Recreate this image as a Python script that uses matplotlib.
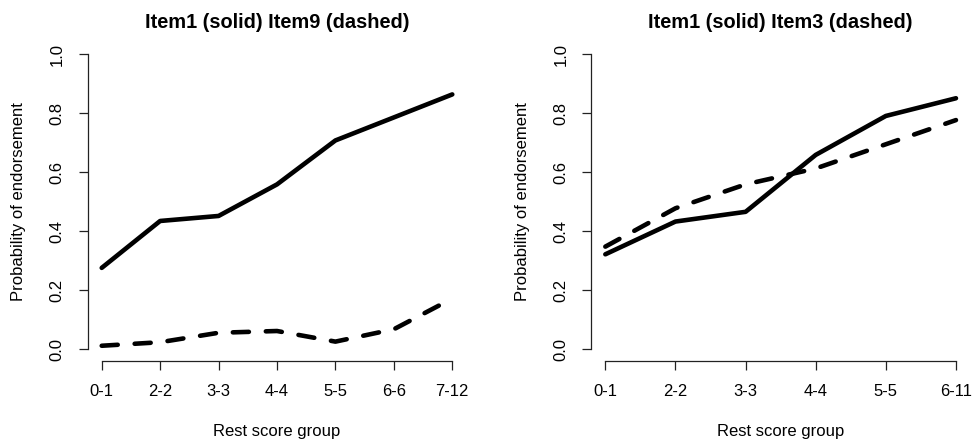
import matplotlib
matplotlib.use("Agg")
import matplotlib.pyplot as plt

plt.rcParams['font.family'] = ['Liberation Sans', 'DejaVu Sans']

left_groups = ["0-1", "2-2", "3-3", "4-4", "5-5", "6-6", "7-12"]
left_item1 = [0.275, 0.434, 0.451, 0.558, 0.707, 0.785, 0.863]
left_item9 = [0.011, 0.023, 0.055, 0.061, 0.025, 0.067, 0.171]

right_groups = ["0-1", "2-2", "3-3", "4-4", "5-5", "6-11"]
right_item1 = [0.321, 0.432, 0.465, 0.658, 0.790, 0.850]
right_item3 = [0.347, 0.477, 0.558, 0.612, 0.694, 0.776]

titles = ["Item1 (solid) Item9 (dashed)", "Item1 (solid) Item3 (dashed)"]
yticks = [0.0, 0.2, 0.4, 0.6, 0.8, 1.0]

W, H = 973, 440
fig = plt.figure(figsize=(W / 100, H / 100), dpi=100)

def add_panel(left_px, right_px, groups, solid, dashed, title):
    top_px, bot_px = 42.2, 360.8
    ax = fig.add_axes([left_px / W, 1 - bot_px / H, (right_px - left_px) / W, (bot_px - top_px) / H])
    x = list(range(1, len(groups) + 1))
    ax.plot(x, solid, color='black', lw=3.3, solid_capstyle='round', solid_joinstyle='round')
    ax.plot(x, dashed, color='black', lw=3.3, dashes=(3.5, 3.7), dash_capstyle='round', dash_joinstyle='round')
    n = len(groups)
    pad = 0.04 * (n - 1)
    ax.set_xlim(1 - pad, n + pad)
    ax.set_ylim(-0.04, 1.04)
    for s in ['top', 'right']:
        ax.spines[s].set_visible(False)
    ax.spines['left'].set_bounds(0, 1)
    ax.spines['bottom'].set_bounds(1, n)
    for s in ['left', 'bottom']:
        ax.spines[s].set_linewidth(0.9)
        ax.spines[s].set_color('#222222')
    ax.set_xticks(x)
    ax.set_xticklabels(groups)
    ax.set_yticks(yticks)
    ax.set_yticklabels([f"{v:.1f}" for v in yticks], rotation=90, va='center')
    ax.tick_params(axis='both', length=6.5, width=0.9, color='#222222', labelsize=12, pad=10)
    ax.set_xlabel("Rest score group", fontsize=12, labelpad=18)
    ax.set_ylabel("Probability of endorsement", fontsize=12, labelpad=17)
    ax.set_title(title, fontsize=14.4, fontweight='bold', pad=10)
    return ax

add_panel(87.7, 466.3, left_groups, left_item1, left_item9, titles[0])
add_panel(591.3, 970.0, right_groups, right_item1, right_item3, titles[1])

fig.savefig("out.png", dpi=100)
